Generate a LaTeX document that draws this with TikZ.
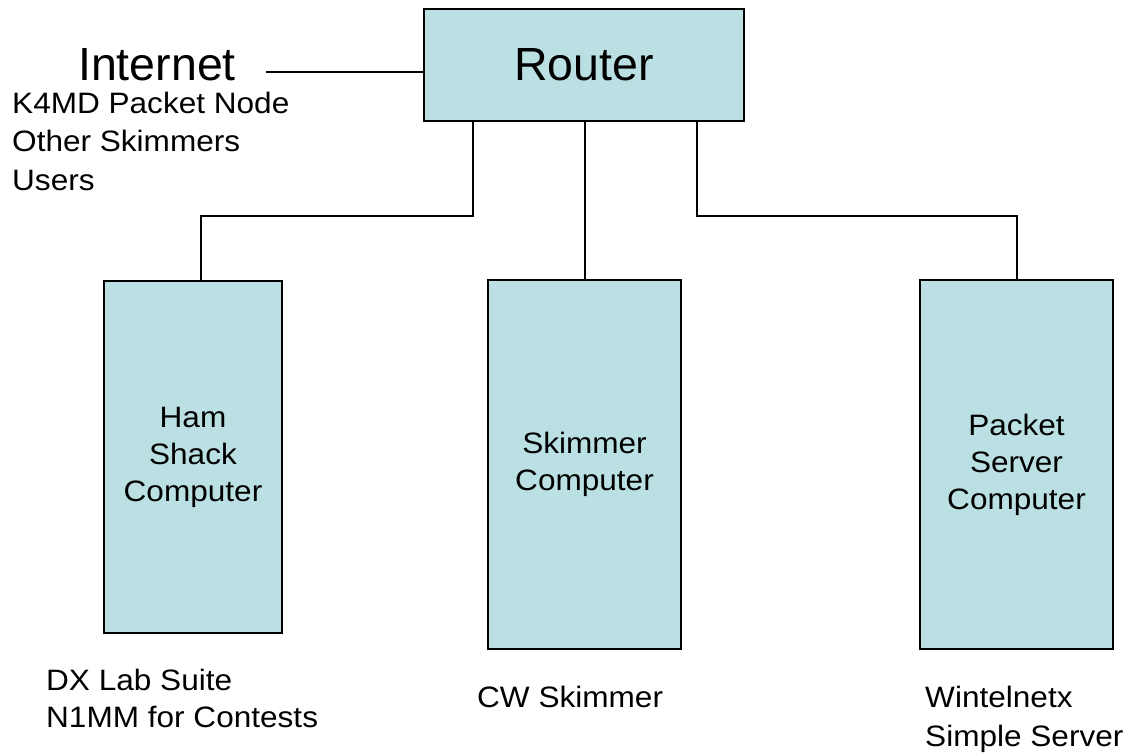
\documentclass[tikz,border=0pt]{standalone}
\usepackage{fontspec}
\setmainfont{Liberation Sans}[FakeStretch=1.07]
\newfontfamily\bigf{Liberation Sans}
\usetikzlibrary{calc}
\definecolor{boxfill}{RGB}{187,224,227}
\tikzset{
  compbox/.style={draw=black, line width=2.2pt, fill=boxfill, inner sep=0pt, align=center,
    font=\fontsize{29.5}{37}\selectfont},
  wire/.style={draw=black, line width=2pt},
  lbl/.style={anchor=base west, inner sep=0pt, font=\fontsize{29.5}{37}\selectfont},
  biglbl/.style={anchor=base west, inner sep=0pt, font=\bigf\fontsize{46.5}{50}\selectfont}
}
\begin{document}
\begin{tikzpicture}[x=1pt,y=-1pt]
\useasboundingbox (0,0) rectangle (1129,752);
% boxes
\node[compbox, minimum width=320pt, minimum height=112pt, font=\bigf\fontsize{46.5}{50}\selectfont] (router) at (584,65) {Router};
\node[compbox, minimum width=178pt, minimum height=352pt] (ham) at (193,457) {Ham\\Shack\\Computer};
\node[compbox, minimum width=193pt, minimum height=369pt] (skim) at (584.5,464.5) {Skimmer\\Computer};
\node[compbox, minimum width=193pt, minimum height=369pt] (pack) at (1016.5,464.5) {Packet\\Server\\Computer};
% labels
\node[biglbl] (inet) at (78,81) {Internet};
\node[lbl] (k4md) at (12,113) {K4MD Packet Node};
\node[lbl] (other) at (12,151.7) {Other Skimmers};
\node[lbl] (users) at (12,190.5) {Users};
\node[lbl] (dx) at (46,690) {DX Lab Suite};
\node[lbl] (n1mm) at (46,727) {N1MM for Contests};
\node[lbl] (cw) at (477,707) {CW Skimmer};
\node[lbl] (wint) at (925,707) {Wintelnetx};
\node[lbl] (simple) at (925,746) {Simple Server};
% connectors
\coordinate (inetend) at (266,72);
\coordinate (j1) at (473,216);
\coordinate (j2) at (697,216);
\draw[wire] (inetend) -- (inetend -| router.west);
\draw[wire] (j1 |- router.south) -- (j1) -| ($(ham.north)+(8,0)$);
\draw[wire] (skim.north |- router.south) -- (skim.north);
\draw[wire] (j2 |- router.south) -- (j2) -| (pack.north);
\end{tikzpicture}
\end{document}
